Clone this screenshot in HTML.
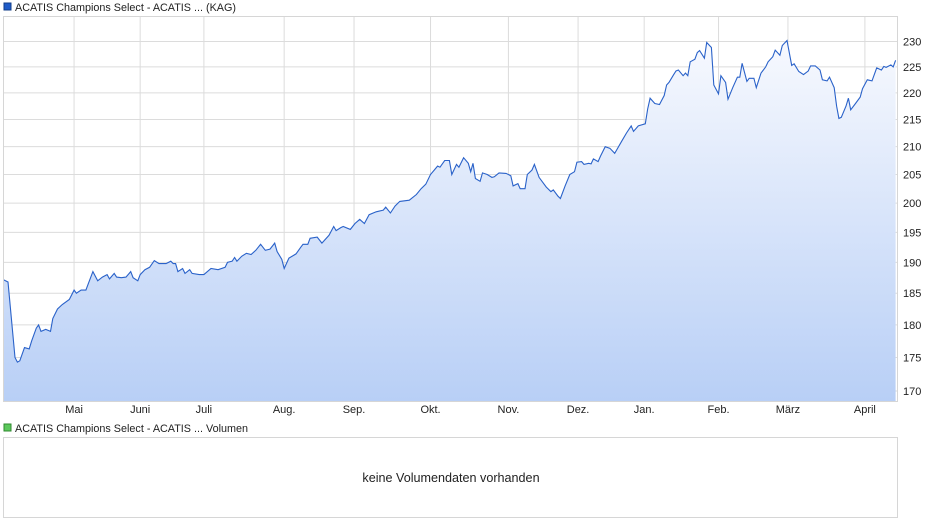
<!DOCTYPE html>
<html><head><meta charset="utf-8"><style>
body{margin:0;background:#fff;font-family:"Liberation Sans",Arial,sans-serif;}
svg{display:block}
text{font-family:"Liberation Sans",Arial,sans-serif;font-size:11px;fill:#222}
</style></head><body>
<svg id="c" width="940" height="526" xmlns="http://www.w3.org/2000/svg">
<defs><linearGradient id="g" x1="0" y1="0" x2="0" y2="1">
<stop offset="0" stop-color="#f7f9fe"/><stop offset="1" stop-color="#b8cff6"/></linearGradient></defs>
<rect x="4" y="3" width="7" height="7" fill="#1f5bc8" stroke="#123c88" stroke-width="1"/>
<text x="15" y="11" style="font-size:10.8px">ACATIS Champions Select - ACATIS ... (KAG)</text>
<g id="grid"></g>
<path id="area" fill="url(#g)"/>
<path id="line" fill="none" stroke="#2a62c9" stroke-width="1.1"/>
<rect x="3.5" y="16.5" width="894" height="385" fill="none" stroke="#d6d6d6"/>
<g id="labels"></g>
<rect x="4" y="424" width="7" height="7" fill="#5cc85c" stroke="#2f8a2f" stroke-width="1"/>
<text x="15" y="432" style="font-size:10.8px">ACATIS Champions Select - ACATIS ... Volumen</text>
<rect x="3.5" y="437.5" width="894" height="80" fill="none" stroke="#d6d6d6"/>
<text x="451" y="482" text-anchor="middle" style="font-size:12.6px">keine Volumendaten vorhanden</text>
</svg>
<script>
const days=[-30,-28,-25,-24,-23,-21,-19,-18,-16,-15,-14,-12,-10,-9,-7,-5,-2,0,1,3,5,6,8,10,12,14,15,17,18,20,22,24,25,27,28,30,32,34,36,39,41,42,43,44,46,47,49,50,53,55,58,61,64,65,67,68,69,71,73,75,77,79,81,83,85,86,88,89,91,94,96,97,99,100,103,105,108,110,111,113,114,117,119,121,123,125,128,131,132,134,136,138,142,145,147,149,151,154,155,157,159,160,162,163,165,167,168,169,170,172,173,175,177,178,180,183,185,186,188,189,191,192,194,195,197,200,202,203,205,206,208,210,212,213,215,216,218,219,220,222,223,225,227,229,230,232,234,236,237,239,242,243,244,246,248,250,251,252,254,255,256,258,259,260,261,263,264,265,267,268,270,271,273,274,276,277,279,281,282,283,285,286,288,289,291,293,294,296,297,299,300,302,304,305,307,309,311,312,314,316,317,319,320,322,323,324,325,327,328,329,331,333,334,336,338,340,342,343,344,346,347,348];
const values=[187.2,186.8,175,174.3,174.5,176.5,176.3,177.5,179.5,180,179,179.3,179,181,182.5,183.2,184,185.5,185,185.5,185.5,186.5,188.5,187,187.6,188,187.3,188.2,187.6,187.5,187.6,188.5,187.5,187,188,188.8,189.2,190.3,189.8,189.8,190.2,189.8,189.8,188.5,189,188.2,188.8,188.2,188,188,189,188.8,189.2,190,190.2,190.8,190.2,191,191.5,191.3,192,193,192,192.2,193.2,191.8,190.5,189,190.7,191.4,192.5,193,193,194,194.2,193.2,194.5,196,195.3,195.8,196,195.5,196.5,197.2,196.5,198,198.5,198.8,199.3,198.3,199.5,200.3,200.5,201.5,202.5,203.3,205,206.5,206.3,207.5,207.5,205,206.8,206.3,208,207,205.5,207,204.3,203.8,205.3,205,204.5,204.6,205.3,205.2,204.8,203,203.4,202.5,202.5,205,205.8,206.8,204.5,202.8,202,202.3,201.2,200.8,203,205,205.5,207.2,207.3,206.8,207,206.9,207.8,207.3,208.3,210,209.7,208.8,209.5,211,212.5,213.8,212.8,213.8,214.2,217,219,218,217.8,219.5,221.5,222,223.5,224.2,224.4,223.3,223.8,223.3,226,226.5,227.8,228.2,226.7,229.8,228.8,221.5,219.8,223.3,222,218.8,221,223,223,225.7,222.2,222.8,222.8,221,223.8,225,226,227,228.3,227.3,229.2,230.2,225.3,225.6,224.1,223.5,224.2,225.2,225.2,224.4,222.5,222.3,223,221,217.5,215.2,215.4,217.5,219,216.8,218,219.2,220.8,222.5,222.3,224.8,224.4,225.1,224.9,225.4,225,226.3];
const yTicks=[170,175,180,185,190,195,200,205,210,215,220,225,230];
const monthNames=["Mai","Juni","Juli","Aug.","Sep.","Okt.","Nov.","Dez.","Jan.","Feb.","März","April"];
const monthPos=[0,28,55,89,118.6,151,184,213.5,241.5,273,302.4,335];

const X0=3,X1=897,D0=-30.1,D1=348.6;
const x=d=>X0+(d-D0)/(D1-D0)*(X1-X0);
const L0=Math.log(170),L1=Math.log(230),Y0=391,Y1=41.5;
const y=v=>Y0-(Math.log(v)-L0)/(L1-L0)*(Y0-Y1);
const NS="http://www.w3.org/2000/svg";
const grid=document.getElementById('grid'),labels=document.getElementById('labels');
function mk(tag,attrs,parent){const e=document.createElementNS(NS,tag);for(const k in attrs)e.setAttribute(k,attrs[k]);parent.appendChild(e);return e;}
yTicks.forEach(t=>{
  const ln=mk('line',{x1:3,x2:897,y1:y(t),y2:y(t),stroke:'#dcdcdc'},grid);
  
  
  const tx=mk('text',{x:903,y:y(t)+4},labels);tx.textContent=t;
  
  
});
monthPos.forEach((p,i)=>{
  const ln=mk('line',{x1:x(p),x2:x(p),y1:16,y2:401,stroke:'#dcdcdc'},grid);
  
  
  const tx=mk('text',{x:x(p),y:413,'text-anchor':'middle'},labels);tx.textContent=monthNames[i];
  
  
});
let d='';days.forEach((dd,i)=>{d+=(i?'L':'M')+x(dd).toFixed(1)+','+y(values[i]).toFixed(1);});
document.getElementById('line').setAttribute('d',d);
document.getElementById('area').setAttribute('d',d+'L'+x(days[days.length-1]).toFixed(1)+',401L'+x(days[0]).toFixed(1)+',401Z');
</script>
</body></html>
